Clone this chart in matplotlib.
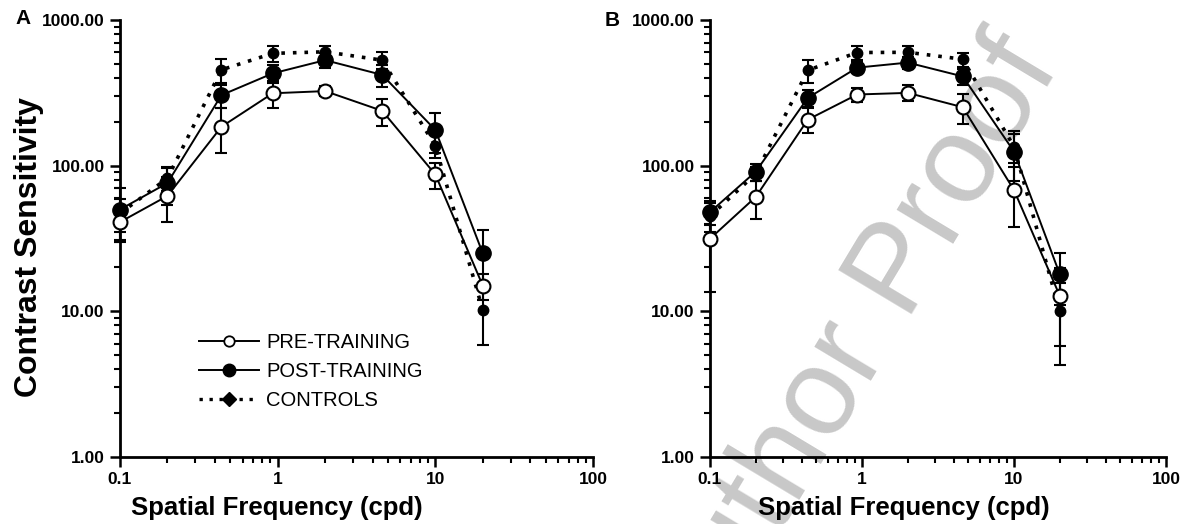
import matplotlib
matplotlib.use("Agg")
import matplotlib.pyplot as plt
from matplotlib.ticker import LogLocator, FixedLocator, FixedFormatter, NullFormatter
from matplotlib.lines import Line2D

plt.rcParams['font.family'] = ['Liberation Sans', 'DejaVu Sans']

freq = [0.1, 0.2, 0.44, 0.93, 2.0, 4.6, 10.0, 20.0]

# Panel A
a_pre = [41, 62, 185, 314, 325, 238, 87, 15]
a_pre_err = [10, 21, 62, 65, 25, 50, 18, 3]
a_post = [50, 76, 305, 430, 530, 420, 176, 25]
a_post_err = [20, 22, 55, 60, 60, 72, 53, 11]
a_ctrl = [47, 82, 455, 590, 605, 530, 137, 10.2]
a_ctrl_err = [12, 15, 88, 72, 55, 72, 25, 4.3]

# Panel B
b_pre = [31.5, 61, 207, 308, 316, 252, 68, 12.8]
b_pre_err = [18, 18, 40, 35, 40, 58, 30, 7]
b_post = [48, 91, 292, 471, 510, 410, 125, 18]
b_post_err = [9, 12, 40, 40, 50, 50, 47, 7]
b_ctrl = [45, 88, 452, 598, 600, 538, 135, 10]
b_ctrl_err = [10, 10, 80, 65, 65, 60, 30, 5.7]

y_ticks = [1, 10, 100, 1000]
y_labels = ["1.00", "10.00", "100.00", "1000.00"]
x_ticks = [0.1, 1, 10, 100]
x_labels = ["0.1", "1", "10", "100"]

W, H = 1186, 524
fig = plt.figure(figsize=(W / 100, H / 100), dpi=100)
axA = fig.add_axes([120/W, 1-457/H, (593-120)/W, (457-20)/H])
axB = fig.add_axes([710/W, 1-457/H, (1166-710)/W, (457-20)/H])

# watermark
fig.text(852/W, 1-350/H, "Author Proof", rotation=59, rotation_mode="anchor",
         fontsize=90, color="#c8c8c8", ha="center", va="center", zorder=-1)


def draw(ax, pre, pre_e, post, post_e, ctrl, ctrl_e):
    ax.set_facecolor("none")
    ax.errorbar(freq, ctrl, yerr=ctrl_e, color="black", ls=(0, (1, 2.2)), lw=2.6,
                marker="o", ms=7.5, mfc="black", mec="black", capsize=4, elinewidth=1.5,
                capthick=1.5, zorder=3, clip_on=False)
    ax.errorbar(freq, post, yerr=post_e, color="black", ls="-", lw=1.4,
                marker="o", ms=11, mfc="black", mec="black", capsize=4, elinewidth=1.5,
                capthick=1.5, zorder=4, clip_on=False)
    ax.errorbar(freq, pre, yerr=pre_e, color="black", ls="-", lw=1.4,
                marker="o", ms=10, mfc="white", mec="black", mew=1.5, capsize=4,
                elinewidth=1.5, capthick=1.5, zorder=5, clip_on=False)
    ax.set_xscale("log")
    ax.set_yscale("log")
    ax.set_xlim(0.1, 100)
    ax.set_ylim(1, 1000)
    for s in ["top", "right"]:
        ax.spines[s].set_visible(False)
    for s in ["left", "bottom"]:
        ax.spines[s].set_linewidth(2)
    ax.yaxis.set_major_locator(FixedLocator(y_ticks))
    ax.yaxis.set_major_formatter(FixedFormatter(y_labels))
    ax.xaxis.set_major_locator(FixedLocator(x_ticks))
    ax.xaxis.set_major_formatter(FixedFormatter(x_labels))
    ax.yaxis.set_minor_locator(LogLocator(base=10, subs=range(2, 10)))
    ax.xaxis.set_minor_locator(LogLocator(base=10, subs=range(2, 10)))
    ax.yaxis.set_minor_formatter(NullFormatter())
    ax.xaxis.set_minor_formatter(NullFormatter())
    ax.tick_params(which="major", length=7, width=1.8, direction="out", labelsize=12.5)
    ax.tick_params(which="minor", length=4.5, width=1.5, direction="out")
    ax.tick_params(axis="y", which="major", pad=4)
    ax.tick_params(axis="x", which="major", pad=4)
    for lab in ax.get_xticklabels() + ax.get_yticklabels():
        lab.set_fontweight("bold")
    ax.set_xlabel("Spatial Frequency (cpd)", fontsize=18.5, fontweight="bold")


draw(axA, a_pre, a_pre_err, a_post, a_post_err, a_ctrl, a_ctrl_err)
draw(axB, b_pre, b_pre_err, b_post, b_post_err, b_ctrl, b_ctrl_err)

axA.xaxis.set_label_coords((277-120)/(593-120), -0.09)
axB.xaxis.set_label_coords((904-710)/(1166-710), -0.09)

axA.set_ylabel("Contrast Sensitivity", fontsize=23, fontweight="bold")
axA.yaxis.set_label_coords((44-120)/(593-120), 1-(247-20)/437)

handles = [
    Line2D([], [], color="black", lw=1.4, marker="o", ms=7.5, mfc="white", mec="black", mew=1.3),
    Line2D([], [], color="black", lw=1.4, marker="o", ms=9, mfc="black", mec="black"),
    Line2D([], [], color="black", lw=2.4, ls=(0, (1, 2)), marker="D", ms=7, mfc="black", mec="black"),
]
axA.legend(handles, ["PRE-TRAINING", "POST-TRAINING", "CONTROLS"], loc="upper left",
           bbox_to_anchor=((199-120)/473, 0.284), frameon=False, fontsize=14.5,
           handlelength=3.0, handletextpad=0.35, labelspacing=0.5, borderpad=0,
           borderaxespad=0)

fig.text(23/W, 1-18/H, "A", fontsize=15, fontweight="bold", ha="center", va="center")
fig.text(612/W, 1-20/H, "B", fontsize=15, fontweight="bold", ha="center", va="center")

fig.savefig("out.png", dpi=100)
